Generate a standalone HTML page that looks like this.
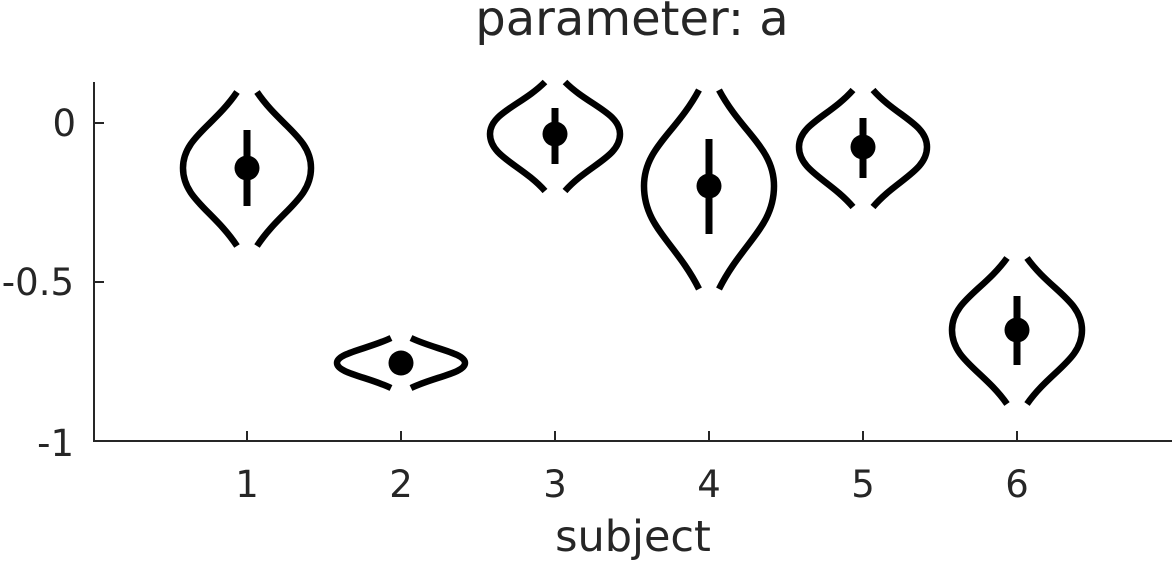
<!DOCTYPE html>
<html><head><style>html,body{margin:0;padding:0;background:#fff}svg{display:block}</style></head><body>
<svg width="1174" height="561" viewBox="0 0 1174 561" xmlns="http://www.w3.org/2000/svg">
<g font-family="DejaVu Sans, Liberation Sans, sans-serif" fill="#262626">
<text x="632" y="35" font-size="48" text-anchor="middle">parameter: a</text>
<text x="633" y="551" font-size="43" text-anchor="middle">subject</text>
<g font-size="37" text-anchor="end">
<text x="76" y="136">0</text>
<text x="74" y="295">-0.5</text>
<text x="74" y="456">-1</text>
</g>
<g font-size="37" text-anchor="middle">
<text x="247" y="497">1</text><text x="401" y="497">2</text><text x="555" y="497">3</text>
<text x="709" y="497">4</text><text x="863" y="497">5</text><text x="1017" y="497">6</text>
</g>
</g>
<g stroke="#262626" stroke-width="2" fill="none">
<path d="M94 82 V441 H1172"/>
<path d="M94 123 H104 M94 282 H104"/>
<path d="M247 441 V431 M401 441 V431 M555 441 V431 M709 441 V431 M863 441 V431 M1017 441 V431"/>
</g>
<g stroke="#000" stroke-width="6.5" fill="none">
<path d="M237 92 C214 126 183 138 183 168 C183 199 214 211 237 246"/>
<path d="M257 92 C280 126 311 138 311 168 C311 199 280 211 257 246"/>
<path d="M391 338 C368 349 337 353 337 363 C337 373 368 377 391 388"/>
<path d="M411 338 C434 349 465 353 465 363 C465 373 434 377 411 388"/>
<path d="M545 82 C522 105 490 113 490 134 C490 157 522 165 545 191"/>
<path d="M565 82 C588 105 620 113 620 134 C620 157 588 165 565 191"/>
<path d="M699 90 C676 133 644 148 644 186 C644 227 676 243 699 289"/>
<path d="M719 90 C742 133 774 148 774 186 C774 227 742 243 719 289"/>
<path d="M853 90 C830 116 799 124 799 147 C799 171 830 180 853 207"/>
<path d="M873 90 C896 116 927 124 927 147 C927 171 896 180 873 207"/>
<path d="M1007 258 C984 290 952 301 952 330 C952 360 984 371 1007 404"/>
<path d="M1027 258 C1050 290 1082 301 1082 330 C1082 360 1050 371 1027 404"/>
<g stroke-width="7">
<line x1="247" y1="130" x2="247" y2="206"/>
<line x1="555" y1="108" x2="555" y2="164"/>
<line x1="709" y1="139" x2="709" y2="234"/>
<line x1="863" y1="118" x2="863" y2="178"/>
<line x1="1017" y1="296" x2="1017" y2="365"/>
</g>
</g>
<g fill="#000">
<circle cx="247" cy="168" r="12.5"/>
<circle cx="401" cy="363" r="12.5"/>
<circle cx="555" cy="134" r="12.5"/>
<circle cx="709" cy="186" r="12.5"/>
<circle cx="863" cy="147" r="12.5"/>
<circle cx="1017" cy="330" r="12.5"/>
</g>
</svg>
</body></html>
